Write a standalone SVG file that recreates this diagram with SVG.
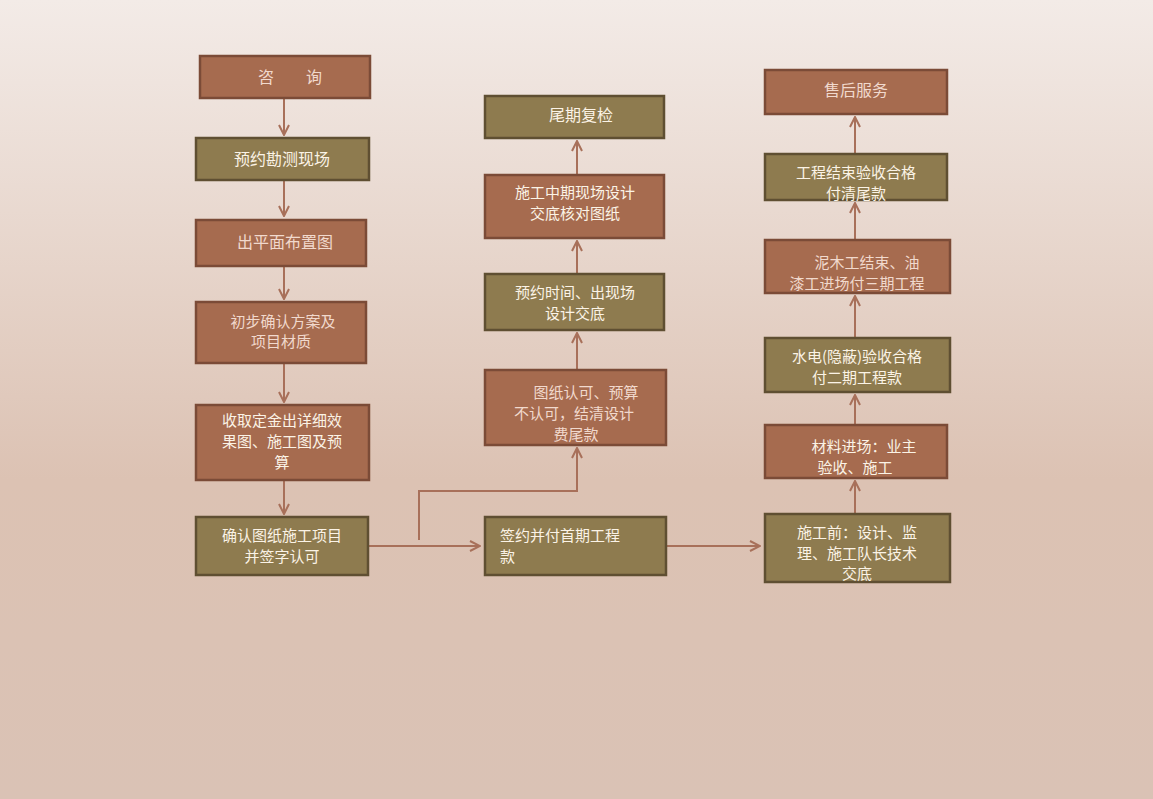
<svg xmlns="http://www.w3.org/2000/svg" width="1153" height="799" viewBox="0 0 1153 799">
<defs>
<linearGradient id="bg" x1="0" y1="0" x2="0" y2="1">
<stop offset="0" stop-color="#f3ebe7"/><stop offset="0.6" stop-color="#dcc2b3"/><stop offset="1" stop-color="#dac2b5"/>
</linearGradient>
<marker id="ah" viewBox="0 0 12 12" refX="11" refY="6" markerWidth="12" markerHeight="12" markerUnits="userSpaceOnUse" orient="auto">
<path d="M1,1 L11,6 L1,11" fill="none" stroke="#a8705a" stroke-width="2"/>
</marker>
<style>
.r{fill:#a66b4f;stroke:#7b4b37;stroke-width:2.5}
.o{fill:#8e7b4f;stroke:#5f4f32;stroke-width:2.5}
text{font-family:"Noto Sans CJK SC","Noto Sans",sans-serif;font-size:15px;text-anchor:middle}
.tr{fill:#f1d9cd}
.to{fill:#fbf3e6}
.c{fill:none;stroke:#a8705a;stroke-width:2;marker-end:url(#ah)}
</style>
</defs>
<rect width="1153" height="799" fill="url(#bg)"/>
<g id="connectors">
<path class="c" d="M284,99 V135"/>
<path class="c" d="M284,181 V216"/>
<path class="c" d="M284,267 V299"/>
<path class="c" d="M284,364 V402"/>
<path class="c" d="M284,481 V514"/>
<path class="c" d="M369,546 H480"/>
<path class="c" d="M419,540 V491 H577 V448"/>
<path class="c" d="M577,369 V333"/>
<path class="c" d="M577,273 V241"/>
<path class="c" d="M577,174 V141"/>
<path class="c" d="M667,546 H760"/>
<path class="c" d="M855,513 V481"/>
<path class="c" d="M855,424 V395"/>
<path class="c" d="M855,337 V296"/>
<path class="c" d="M855,239 V203"/>
<path class="c" d="M855,153 V117"/>
</g>
<g id="n1"><rect class="r" x="200" y="56" width="170" height="42"/><text class="tr" x="290" y="83" style="font-size:16px">咨　　询</text></g>
<g id="n2"><rect class="o" x="196" y="138" width="173" height="42"/><text class="to" x="282" y="165" style="font-size:16px">预约勘测现场</text></g>
<g id="n3"><rect class="r" x="196" y="220" width="170" height="46"/><text class="tr" x="285" y="248" style="font-size:16px">出平面布置图</text></g>
<g id="n4"><rect class="r" x="196" y="302" width="170" height="61"/><text class="tr" x="283" y="327">初步确认方案及</text><text class="tr" x="281" y="347">项目材质</text></g>
<g id="n5"><rect class="r" x="196" y="405" width="173" height="75"/><text class="to" x="282" y="426">收取定金出详细效</text><text class="to" x="282" y="447">果图、施工图及预</text><text class="to" x="282" y="468">算</text></g>
<g id="n6"><rect class="o" x="196" y="517" width="172" height="58"/><text class="to" x="282" y="541">确认图纸施工项目</text><text class="to" x="282" y="562">并签字认可</text></g>
<g id="n7"><rect class="o" x="485" y="517" width="181" height="58"/><text class="to" x="500" y="541" style="text-anchor:start">签约并付首期工程</text><text class="to" x="500" y="562" style="text-anchor:start">款</text></g>
<g id="n8"><rect class="r" x="485" y="370" width="181" height="75"/><text class="tr" x="586" y="398">图纸认可、预算</text><text class="tr" x="574" y="419">不认可，结清设计</text><text class="tr" x="576" y="440">费尾款</text></g>
<g id="n9"><rect class="o" x="485" y="274" width="179" height="56"/><text class="to" x="575" y="298">预约时间、出现场</text><text class="to" x="575" y="319">设计交底</text></g>
<g id="n10"><rect class="r" x="485" y="175" width="179" height="63"/><text class="to" x="575" y="198">施工中期现场设计</text><text class="to" x="575" y="219">交底核对图纸</text></g>
<g id="n11"><rect class="o" x="485" y="96" width="179" height="42"/><text class="to" x="581" y="121" style="font-size:16px">尾期复检</text></g>
<g id="n12"><rect class="o" x="765" y="514" width="185" height="68"/><text class="to" x="857" y="538">施工前：设计、监</text><text class="to" x="857" y="559">理、施工队长技术</text><text class="to" x="857" y="579">交底</text></g>
<g id="n13"><rect class="r" x="765" y="425" width="182" height="53"/><text class="to" x="864" y="452">材料进场：业主</text><text class="to" x="855" y="473">验收、施工</text></g>
<g id="n14"><rect class="o" x="765" y="338" width="185" height="54"/><text class="to" x="857" y="362">水电(隐蔽)验收合格</text><text class="to" x="857" y="383">付二期工程款</text></g>
<g id="n15"><rect class="r" x="765" y="240" width="185" height="53"/><text class="tr" x="867" y="268">泥木工结束、油</text><text class="tr" x="857" y="289">漆工进场付三期工程</text></g>
<g id="n16"><rect class="o" x="765" y="154" width="182" height="46"/><text class="to" x="856" y="178">工程结束验收合格</text><text class="to" x="856" y="199">付清尾款</text></g>
<g id="n17"><rect class="r" x="765" y="70" width="182" height="44"/><text class="tr" x="856" y="96" style="font-size:16px">售后服务</text></g>
</svg>
